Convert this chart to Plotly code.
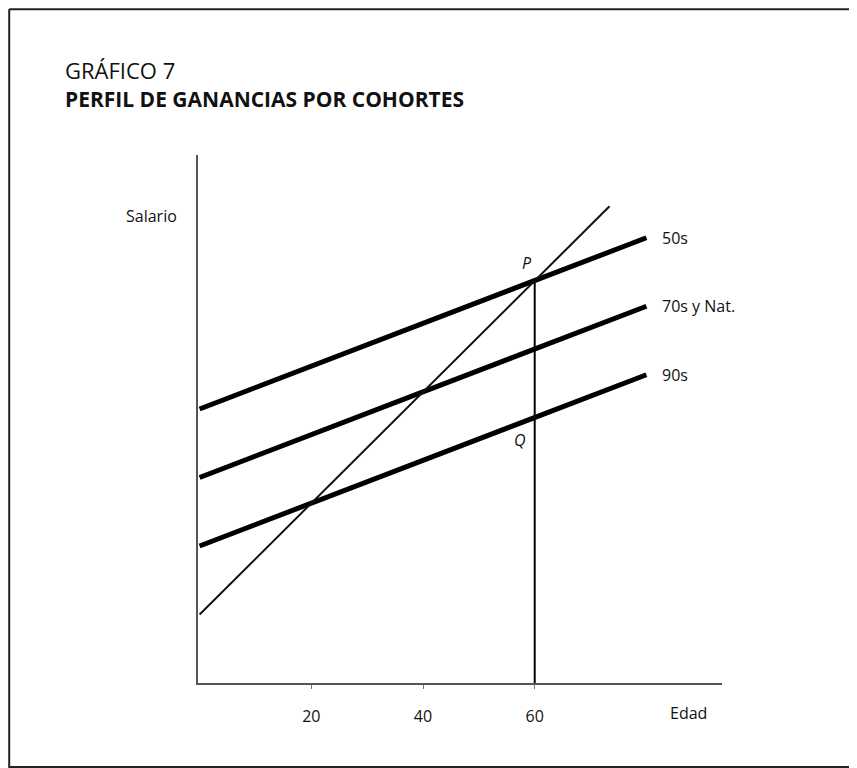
import plotly.graph_objects as go

# ---- data ----
edad = [0, 80]                       # age span of cohort profiles
salario_50s = [4.0, 6.5]
salario_70s = [3.0, 5.5]
salario_90s = [2.0, 4.5]
transv_edad = [0, 73.4]              # cross-section line
transv_salario = [1.0, 6.96]
vert_edad = [60, 60]                 # vertical through P and Q
vert_salario = [0.0, 5.875]
punto_P = (60, 5.875)
punto_Q = (60, 3.875)
tick_vals = [20, 40, 60]
tick_text = ["20", "40", "60"]
cohortes = ["50s", "70s y Nat.", "90s"]

FONT = "Open Sans"
OFF = 8                      # page body margin
W, H = 857, 768
ML, MT = 198 - OFF, 155 - OFF
PW, PH = 722 - 198, 683 - 155
MR, MB = W - ML - PW, H - MT - PH

def px_x(px):
    return (px - OFF - ML) / PW

def px_y(py):
    return (MT + PH - (py - OFF)) / PH

fig = go.Figure()

for ys in (salario_50s, salario_70s, salario_90s):
    fig.add_trace(go.Scatter(x=edad, y=ys, mode="lines",
                             line=dict(color="#000000", width=5),
                             hoverinfo="skip", showlegend=False))

fig.add_trace(go.Scatter(x=transv_edad, y=transv_salario, mode="lines",
                         line=dict(color="#111111", width=2),
                         hoverinfo="skip", showlegend=False))
fig.add_trace(go.Scatter(x=vert_edad, y=vert_salario, mode="lines",
                         line=dict(color="#000000", width=2),
                         hoverinfo="skip", showlegend=False))

annotations = []
for name, ys in zip(cohortes, (salario_50s, salario_70s, salario_90s)):
    annotations.append(dict(x=edad[-1], y=ys[-1], xref="x", yref="y",
                            text=name, showarrow=False, xanchor="left",
                            yanchor="middle", xshift=14,
                            font=dict(family=FONT, size=16, color="#111111")))

annotations += [
    dict(x=punto_P[0], y=punto_P[1], xref="x", yref="y", text="P",
         showarrow=False, xshift=-8, yshift=18,
         font=dict(family=FONT, size=16, color="#111111", style="italic")),
    dict(x=punto_Q[0], y=punto_Q[1], xref="x", yref="y", text="Q",
         showarrow=False, xshift=-15, yshift=-22,
         font=dict(family=FONT, size=16, color="#111111", style="italic")),
    dict(x=px_x(179), y=px_y(216), xref="paper", yref="paper", text="Salario",
         showarrow=False, xanchor="right", yanchor="middle",
         font=dict(family=FONT, size=16, color="#111111")),
    dict(x=px_x(688), y=px_y(713), xref="paper", yref="paper", text="Edad",
         showarrow=False, xanchor="center", yanchor="middle",
         font=dict(family=FONT, size=16, color="#111111")),
    dict(x=px_x(63), y=px_y(70), xref="paper", yref="paper", text="GRÁFICO 7",
         showarrow=False, xanchor="left", yanchor="middle",
         font=dict(family=FONT, size=22, color="#111111")),
    dict(x=px_x(63), y=px_y(99), xref="paper", yref="paper",
         text="<b>PERFIL DE GANANCIAS POR COHORTES</b>",
         showarrow=False, xanchor="left", yanchor="middle",
         font=dict(family=FONT, size=21, color="#111111")),
]

BX, BY = 9.2, 9.2   # frame left/top (as close to the reference as the page allows)
shapes = [
    dict(type="line", xref="paper", yref="paper", x0=px_x(BX), x1=px_x(BX),
         y0=px_y(BY), y1=px_y(770), line=dict(color="#222222", width=2)),
    dict(type="line", xref="paper", yref="paper", x0=px_x(BX), x1=px_x(870),
         y0=px_y(BY), y1=px_y(BY), line=dict(color="#222222", width=2)),
    dict(type="line", xref="paper", yref="paper", x0=px_x(BX), x1=px_x(870),
         y0=px_y(767), y1=px_y(767), line=dict(color="#222222", width=2)),
]

fig.update_layout(
    width=W, height=H,
    margin=dict(l=ML, r=MR, t=MT, b=MB, pad=0),
    paper_bgcolor="white", plot_bgcolor="white",
    showlegend=False,
    annotations=annotations,
    shapes=shapes,
    xaxis=dict(range=[(198 - 199.6) / 5.585, (722 - 199.6) / 5.585],
               showgrid=False, zeroline=False,
               showline=True, linecolor="#555555", linewidth=1.5,
               ticks="outside", ticklen=4, tickwidth=1, tickcolor="#777777",
               tickvals=tick_vals, ticktext=tick_text,
               ticklabelstandoff=14,
               tickfont=dict(family=FONT, size=16, color="#111111"),
               fixedrange=True),
    yaxis=dict(range=[0, PH / 68.5],
               showgrid=False, zeroline=False,
               showline=True, linecolor="#555555", linewidth=1.5,
               showticklabels=False, ticks="",
               fixedrange=True),
)

fig.write_html("out.html")
